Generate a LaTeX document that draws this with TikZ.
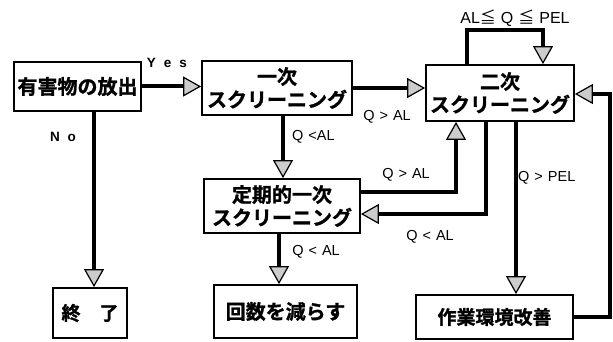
\documentclass[tikz,border=0pt]{standalone}
\usepackage{fontspec}
\setmainfont{Liberation Sans}
\newfontfamily\jp{Noto Sans CJK JP Bold}[FakeBold=1.2]
\newfontfamily\jpn{Noto Sans CJK JP}
\usetikzlibrary{arrows.meta}

\tikzset{
  box/.style={draw=black, line width=1.8pt, fill=white, inner sep=0pt, align=center,
              font=\jp\fontsize{20}{23}\selectfont},
  conn/.style={line width=4pt, -{Triangle[width=20pt,length=18pt,fill=black!20,line width=1.2pt]}},
  lbl/.style={font=\fontsize{14.5}{16}\selectfont, inner sep=0pt},
  ylbl/.style={font=\bfseries\fontsize{13.5}{15}\selectfont, inner sep=0pt},
}
\newcommand{\gsp}{\hspace{5pt}}

\begin{document}
\begin{tikzpicture}[x=1pt,y=-1pt]
\useasboundingbox (0,0) rectangle (613,342);

% boxes
\node[box, minimum width=127pt, minimum height=49pt] (A) at (77.5,86.5) {有害物の放出};
\node[box, minimum width=150pt, minimum height=54pt] (B) at (277,88) {一次\\スクリーニング};
\node[box, minimum width=148pt, minimum height=56pt] (C) at (500,93) {二次\\スクリーニング};
\node[box, minimum width=156pt, minimum height=54pt] (D) at (282,206) {定期的一次\\スクリーニング};
\node[box, minimum width=74pt, minimum height=50pt, font=\jp\fontsize{19}{22}\selectfont] (E) at (90,313) {終　了};
\node[box, minimum width=143pt, minimum height=53pt] (F) at (285.5,311.5) {回数を減らす};
\node[box, minimum width=157pt, minimum height=44pt, font=\jp\fontsize{19}{22}\selectfont] (G) at (494.5,317) {作業環境改善};

% helper coordinates
\coordinate (xA) at (94,0);
\coordinate (xB) at (283,0);
\coordinate (xF) at (279,0);
\coordinate (xG) at (516,0);
\coordinate (l1) at (467,30);
\coordinate (l2) at (543,30);
\coordinate (m1) at (486,214);
\coordinate (m2) at (456,192);
\coordinate (r1) at (610,317);
\coordinate (r2) at (610,94);

% connectors
\draw[conn] (A.east) -- (A.east -| B.west);
\draw[conn] (B.east) -- (B.east -| C.west);
\draw[conn] (A.south -| xA) -- (E.north -| xA);
\draw[conn] (B.south -| xB) -- (D.north -| xB);
\draw[conn] (C.north -| l1) -- (l1) -- (l2) -- (C.north -| l2);
\draw[conn] (C.south -| m1) -- (m1) -- (D.east |- m1);
\draw[conn] (D.east |- m2) -- (m2) -- (C.south -| m2);
\draw[conn] (C.south -| xG) -- (G.north -| xG);
\draw[conn] (G.east |- r1) -- (r1) -- (r2) -- (C.east |- r2);
\draw[conn] (D.south -| xF) -- (F.north -| xF);

% labels
\node[ylbl] (yes) at (167,63) {Y\hspace{8pt}e\hspace{8pt}s};
\node[ylbl] (no) at (63,137) {N\hspace{8pt}o};
\node[lbl] (q1) at (387,117) {Q\gsp>\gsp AL};
\node[lbl, anchor=west] (q2) at (292,137) {Q\gsp<AL};
\node[lbl] (q3) at (406,175) {Q\gsp>\gsp AL};
\node[lbl] (q4) at (430,237) {Q\gsp<\gsp AL};
\node[lbl] (q5) at (316,252) {Q\gsp<\gsp AL};
\node[lbl, anchor=west] (q6) at (518,178) {Q\gsp>\gsp PEL};
\node[lbl, font=\fontsize{16}{18}\selectfont] (q7) at (515,18) {AL{\jpn ≦}\gsp Q\gsp{\jpn ≦}\gsp PEL};
\end{tikzpicture}
\end{document}
